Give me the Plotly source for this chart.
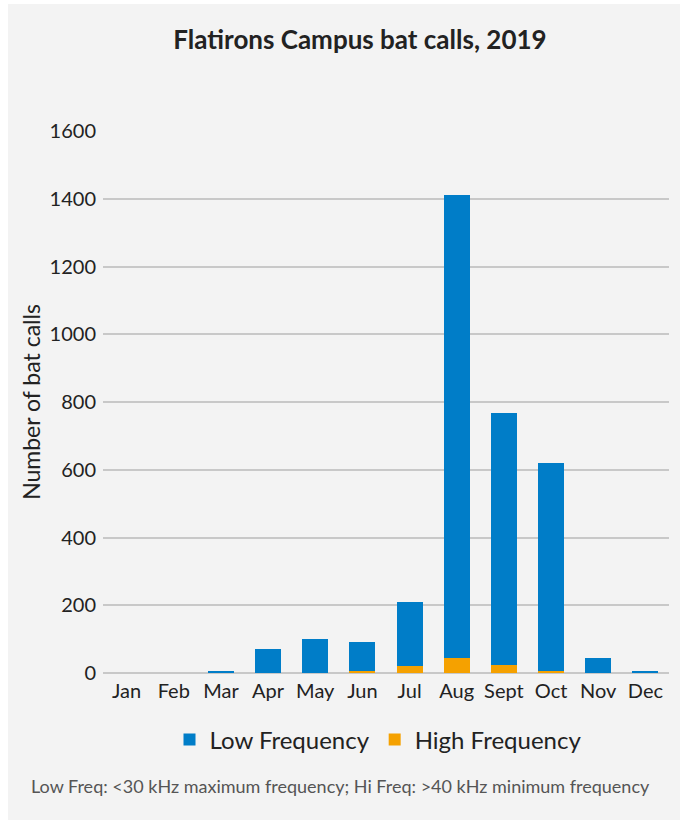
import plotly.graph_objects as go

months = ["Jan", "Feb", "Mar", "Apr", "May", "Jun", "Jul", "Aug", "Sept", "Oct", "Nov", "Dec"]
low_freq = [0, 0, 7, 71, 100, 85, 187, 1367, 742, 613, 44, 7]
high_freq = [0, 0, 0, 0, 0, 6, 22, 44, 25, 6, 0, 0]
y_ticks = [0, 200, 400, 600, 800, 1000, 1200, 1400, 1600]

BLUE = "#007DC8"
ORANGE = "#F5A100"
FONT = "Lato, 'Open Sans', sans-serif"

W, H = 683, 823
ml, mr, mt, mb = 103, 14, 131, 150
pw, ph = W - ml - mr, H - mt - mb

def px(x):
    return (x - ml) / pw

def py(y):
    return (H - mb - y) / ph

fig = go.Figure()
fig.add_trace(go.Bar(x=months, y=high_freq, name="High Frequency", marker_color=ORANGE,
                     marker_line_width=0, showlegend=True, legendrank=2))
fig.add_trace(go.Bar(x=months, y=low_freq, name="Low Frequency", marker_color=BLUE,
                     marker_line_width=0, legendrank=1))

fig.update_layout(
    width=W, height=H,
    margin=dict(l=ml, r=mr, t=mt, b=mb),
    barmode="stack",
    bargap=0.45,
    paper_bgcolor="white",
    plot_bgcolor="rgba(0,0,0,0)",
    font=dict(family=FONT, color="#222222", size=20),
    title=dict(text="<b>Flatirons Campus bat calls, 2019</b>", x=360 / W, xanchor="center",
               y=1 - 40 / H, yanchor="middle", font=dict(size=26, family=FONT, color="#222222")),
    xaxis=dict(showgrid=False, showline=False, ticks="", tickfont=dict(size=20, color="#222222"),
               ticklabelstandoff=4, fixedrange=True),
    yaxis=dict(range=[0, 1600], tickvals=y_ticks, showgrid=True, gridcolor="#c8c8c8", gridwidth=1.5,
               zeroline=True, zerolinecolor="#c8c8c8", zerolinewidth=2,
               tickfont=dict(size=20, color="#222222"), ticklabelstandoff=6,
               title=dict(text="Number of bat calls", font=dict(size=23, color="#222222"), standoff=2)),
    legend=dict(orientation="h", x=px(378), xanchor="center", y=py(740), yanchor="middle",
                font=dict(size=24, color="#222222"), traceorder="normal", itemwidth=30,
                bgcolor="rgba(0,0,0,0)", itemclick=False),
    shapes=[dict(type="rect", xref="paper", yref="paper", x0=px(8), x1=px(680), y0=py(820), y1=py(4),
                 fillcolor="#f3f3f3", line_width=0, layer="below")],
    annotations=[dict(text="Low Freq: <30 kHz maximum frequency; Hi Freq: >40 kHz minimum frequency",
                      xref="paper", yref="paper", x=px(340), y=py(786), xanchor="center", yanchor="middle",
                      showarrow=False, font=dict(size=18, color="#555555", family=FONT))],
)

fig.write_html("out.html")
